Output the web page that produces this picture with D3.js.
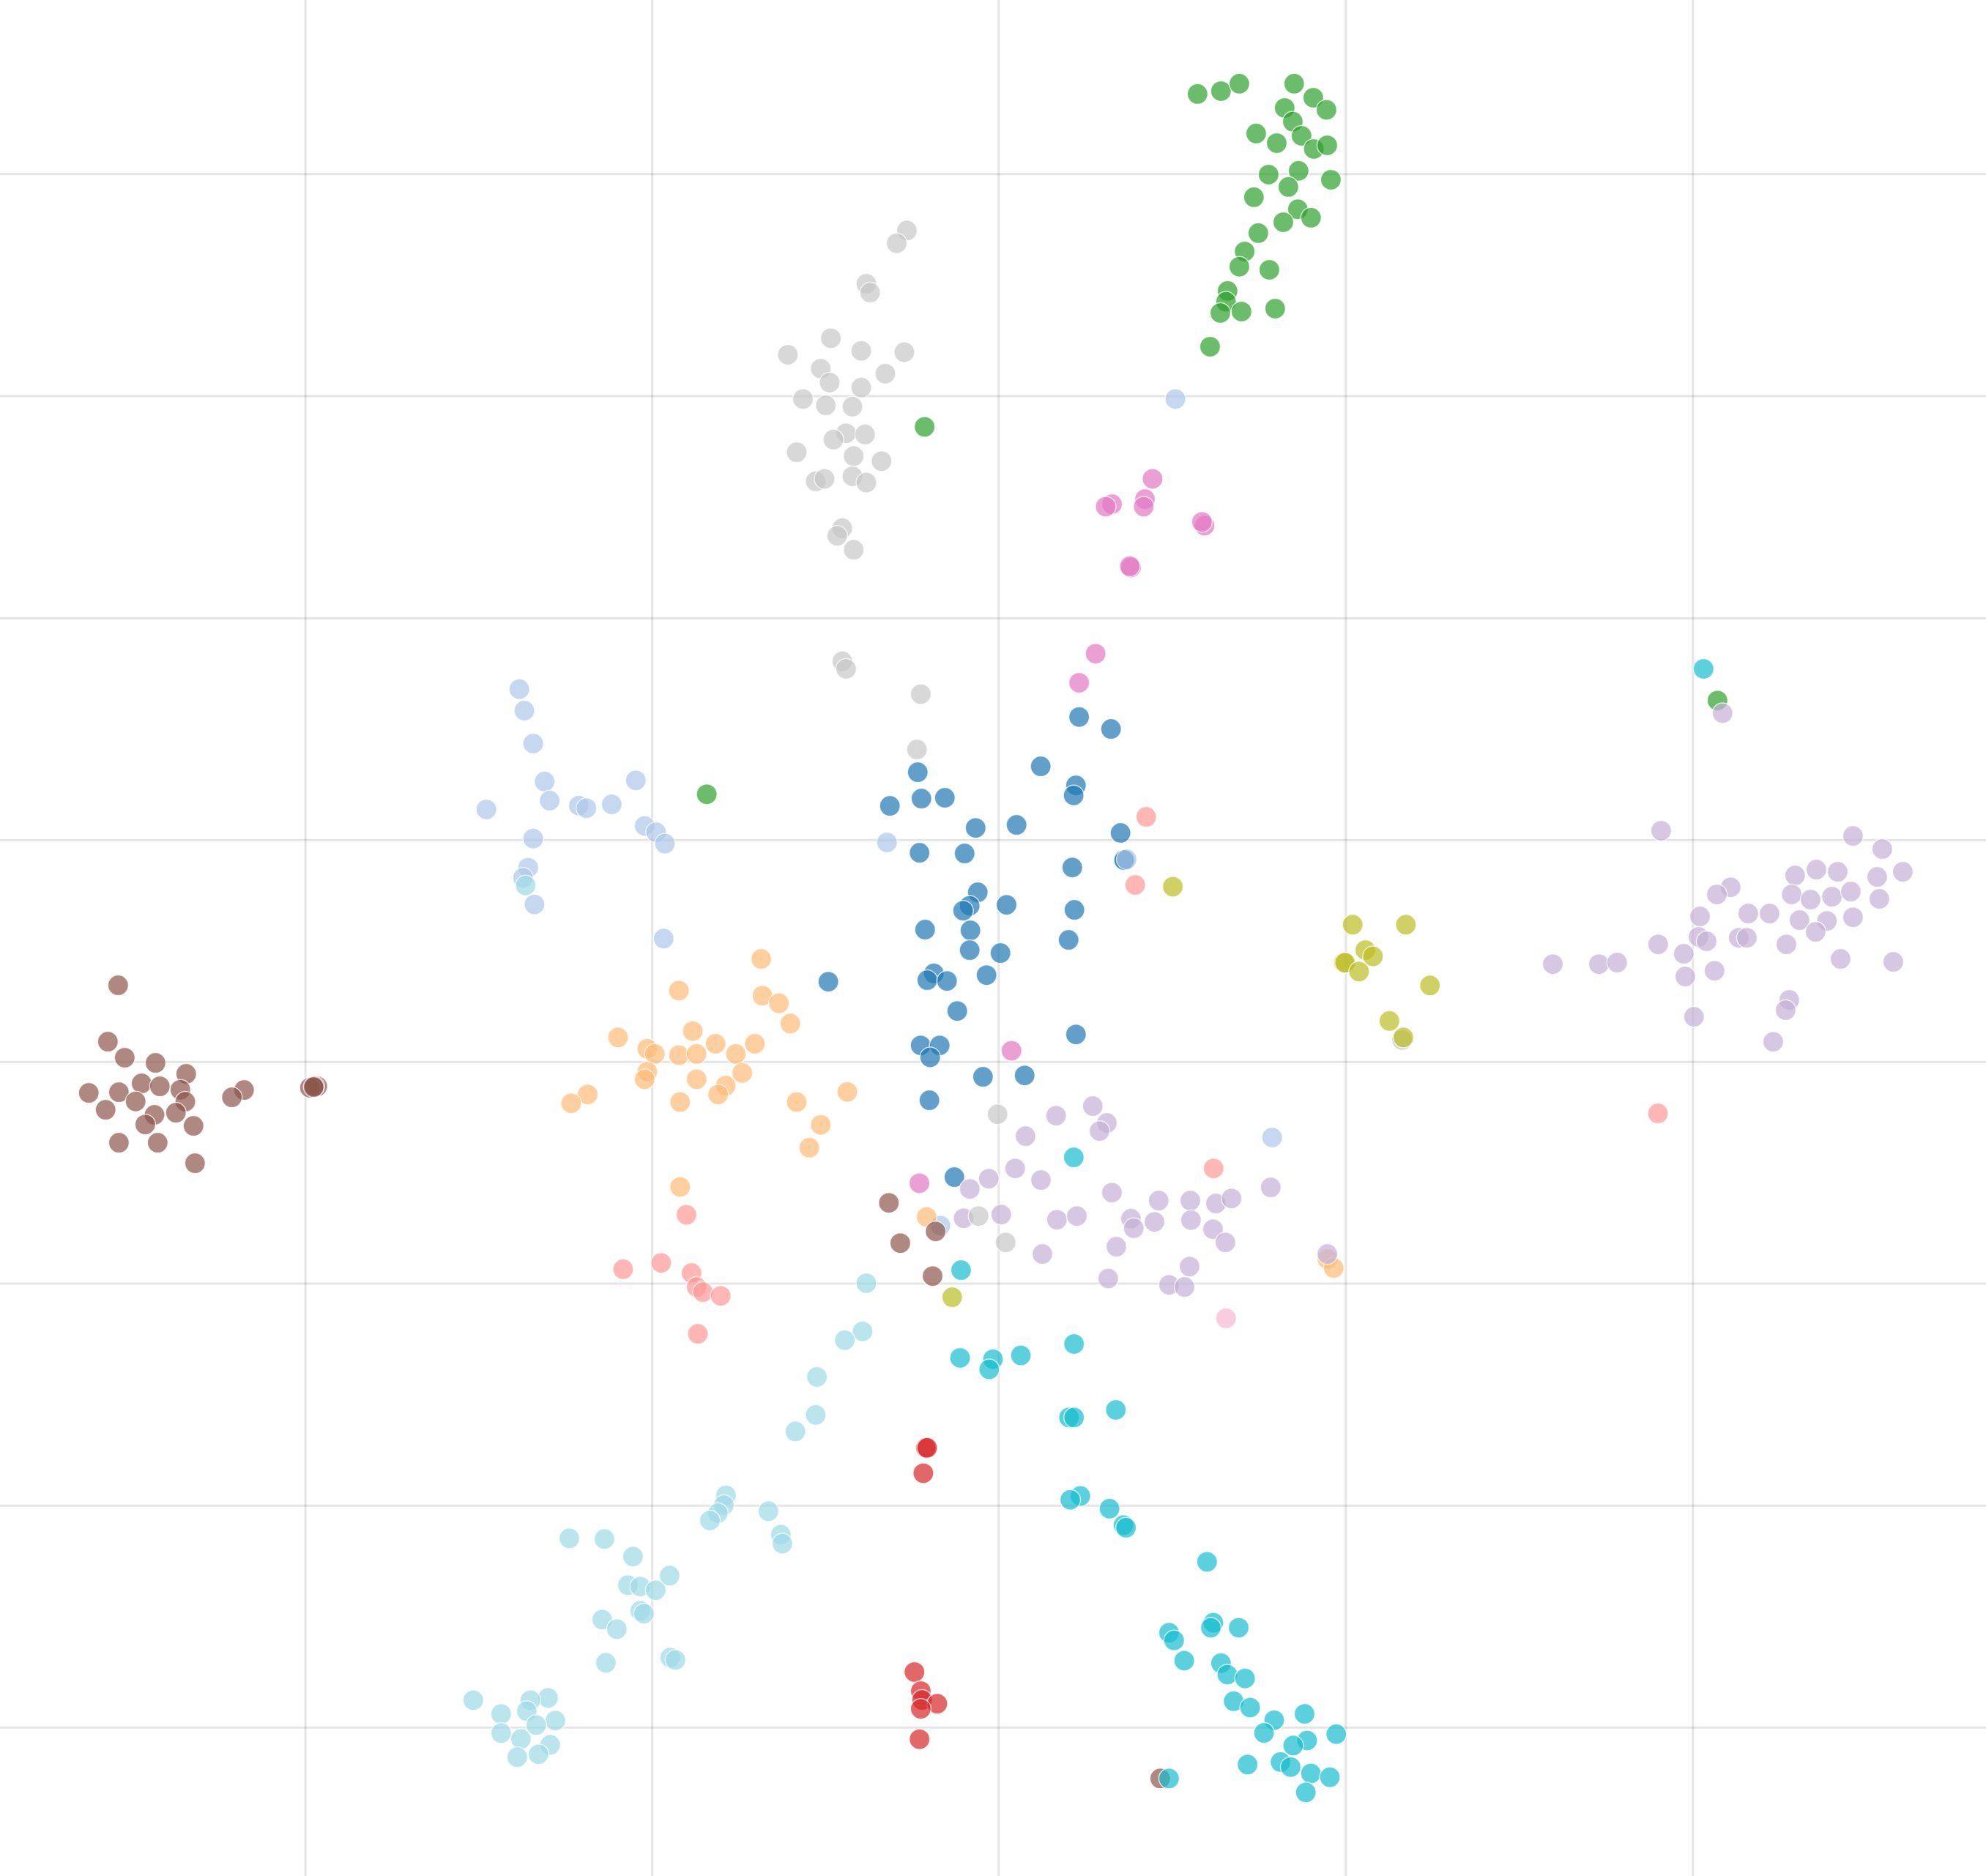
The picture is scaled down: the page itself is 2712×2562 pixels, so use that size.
<!DOCTYPE html>
<html>
<head>
<meta charset="utf-8">
<script src="https://cdn.jsdelivr.net/npm/d3@7"></script>
<style>
  html, body { margin: 0; padding: 0; background: #fff; }
  svg { display: block; }
</style>
</head>
<body>
<div id="chart"></div>
<script>
// Axes carry no labels in the reference, so values are in units
const xTickValues = [240.9, 514.7, 788.2, 1062.3, 1336.3];
const yTickValues = [137.2, 312.5, 487.9, 662.9, 838, 1013.1, 1188.3, 1363.5];

const bluePoints = [[724.6,609.6],[727.5,630.4],[746,629.8],[702.6,636.2],[821.7,605],[849.5,620],[847.7,627.9],[877.2,575.5],[852,566],[770.3,653.6],[802.6,651.2],[884.7,657.6],[726,673.2],[761.6,673.8],[846.6,684.8],[888,678.8],[887.5,679],[772,704.4],[765.6,715],[760.4,718.9],[794.7,714.3],[848.3,718.3],[730.4,733.9],[766.2,734.5],[843.7,742],[765.6,750.1],[789.9,752.4],[737.3,768.4],[732.1,773.8],[747.7,774.4],[778.9,769.8],[755.8,798.1],[849.5,816.6],[726.9,825.3],[741.9,825.3],[734.4,834.7],[776.1,850.1],[809,849],[733.8,868.6],[654,775],[753.5,929.3]];
const lightBluePoints = [[928,315],[410,544],[414,561],[421,587],[430,617],[502,616],[434,632],[457,636],[463,638],[483,635],[384,639],[509,652],[518,657],[525,666],[421,662],[417,685],[413,693],[422,714],[524,741],[700.3,665],[742.5,967.5],[1004.4,898],[889.5,678.4]];
const lightOrangePoints = [[601,757],[536,782],[602,786],[615,792],[624,808],[547,814],[488,819],[565,824],[596,824],[511,828],[517,832],[536,833],[550,832],[581,832],[511,846],[509,852],[550,852],[586,847],[573,857],[567,864],[464,864],[451,871],[537,870],[629,870],[669,862],[648,888],[639,906],[537,937],[731.6,960.7],[1048,994],[1053,1001]];
const greenPoints = [[945.5,74.2],[964,71.9],[978.5,66.1],[1021.8,66.1],[1036.9,77.1],[1047.3,86.7],[1014.3,85.2],[1020.7,96],[1027.6,107.2],[991.8,105.4],[1008,113],[1037.3,117.6],[1047.9,114.7],[1001.6,137.8],[1025.3,134.9],[1050.8,141.9],[1017.2,147.6],[990,155.7],[1024.7,165.2],[1035.1,171.9],[1013.2,175.4],[993.5,184],[982.7,198.5],[978.5,210.5],[1002.2,213],[969.2,229.7],[968,238.2],[963.5,247.1],[980.2,245.9],[1006.8,243.6],[955.4,273.7],[730,337],[558,627],[1356,553]];
const redPoints = [[731,1143],[732,1143],[729,1163],[722,1320],[727,1335],[728,1342],[740,1345],[727,1349],[726,1373]];
const lightRedPoints = [[542,959],[492,1002],[522,997],[546,1005],[550,1016],[555,1020],[569,1023],[551,1053],[905,644.9],[896.3,698.6],[958.2,922.4],[1309,879]];
const lightPurplePoints = [[862.8,873.2],[833.8,880.8],[873.9,886.5],[868.1,892.9],[809.7,896.9],[780.7,930.5],[801.5,922.4],[821.9,931.6],[765.7,938.6],[877.9,941.5],[914.8,947.8],[939.8,947.8],[960,950.1],[972.3,946.1],[1003.3,937.4],[760.8,961.7],[790.5,958.8],[834.5,962.9],[850.2,960],[892.9,962.1],[895.1,969.6],[911.5,964.6],[940.3,963.2],[957.7,970.4],[967.5,980.8],[881.4,984.2],[823,990],[939.2,999.9],[875,1009.3],[923,1014.3],[935.2,1016],[1048,990],
  [1311.5,655.8],[1463,659.9],[1486.1,670.3],[1502.3,688.2],[1482.1,692.3],[1483.8,709.6],[1417.3,691.1],[1434.1,686.5],[1450.9,688.2],[1414.6,706.1],[1429.5,710.2],[1446.4,707.9],[1461.3,703.8],[1366.4,700.4],[1355.5,706.1],[1342.2,723.5],[1380.3,721.2],[1397.1,721.2],[1420.8,726.4],[1442.4,727],[1463,724.1],[1433.5,735.6],[1341,739.7],[1347.4,743.1],[1372.8,740.3],[1379.2,740.3],[1410.4,745.5],[1309.2,745.5],[1329.4,753],[1226,761.1],[1262.4,761.1],[1276.8,759.9],[1330.6,770.9],[1353.7,766.3],[1453.2,757],[1494.8,759.3],[1412.7,789.4],[1409.8,797.5],[1337.5,802.7],[1400,822.4],[1360,563]];
const brownPoints = [[93.3,777.8],[85.2,822.3],[98.5,835],[122.8,839.1],[147,847.8],[70.1,862.8],[93.9,862.2],[111.8,855.3],[126.2,857.6],[142.4,860.3],[107.1,869.5],[146.3,869.7],[83.4,876.1],[122,880.1],[138.9,878.4],[114.7,887.7],[152.8,888.8],[93.9,902.1],[124.5,902.1],[154,918.3],[192.7,860.5],[183.1,866.3],[250.5,857.6],[244.7,858.7],[248.2,857.6],[247.6,858.2],[701.8,949.6],[738.7,972.1],[710.8,981.4],[736.3,1007.4],[916,1404]];
const pinkPoints = [[910,378],[878,398],[873,400],[904,394],[903,400],[951,415],[949,412],[893,448],[892,447],[865,516],[852,539],[798.6,829.5],[725.9,934.1]];
const lightPinkPoints = [[968,1040.7]];
const lightGreyPoints = [[716,182],[708,192],[684,224],[687,231],[656,267],[680,277],[714,278],[622,280],[648,291],[699,295],[655,302],[680,306],[634,315],[652,320],[673,321],[668,342],[683,343],[658,347],[629,357],[674,360],[696,364],[644,380],[651,378],[673,376],[684,381],[665,417],[661,423],[674,434],[665,522],[668,528],[727,548],[724,591.7],[787.6,879.6],[772.6,960],[794,980.8],[1107,821]];
const olivePoints = [[1068,730],[1110,730],[1078,750],[1084,755],[1061,760],[1062,760],[1073,767],[1129,778],[1097,806],[1108,819],[751.8,1024.1],[926,700]];
const cyanPoints = [[1345,528],[847.8,913.7],[758.8,1002.7],[848,1061],[806,1070],[758,1072],[784,1073],[781,1081],[881,1113],[844,1119],[848,1119],[853,1181],[845,1184],[876,1191],[887,1204],[889,1206],[953,1233],[923,1289],[927,1295],[958,1281],[956,1285],[978,1285],[935,1311],[964,1313],[969,1322],[983,1325],[974,1343],[987,1348],[1006,1358],[1030,1353],[998,1368],[1055,1369],[1032,1374],[1021,1378],[1011,1391],[985,1393],[1019,1395],[1035,1400],[1050,1403],[923,1404],[1031,1415]];
const lightCyanPoints = [[449.5,1214.4],[477.2,1215],[499.8,1228.8],[528.7,1243.9],[495.7,1251.4],[505.5,1252.5],[517.7,1255.4],[505.5,1271.6],[508.4,1273.9],[475.5,1278.6],[487,1286.1],[478.4,1312.7],[529.2,1308.6],[533.3,1310.4],[373.7,1342.2],[395.7,1353.1],[432.7,1340.4],[418.8,1342.2],[415.9,1350.8],[438.5,1358.3],[423.4,1361.8],[395.7,1368.2],[411.3,1372.8],[434.4,1377.4],[425.2,1384.9],[408.4,1387.2],[573.2,1180.5],[571.5,1188.2],[566.8,1194.5],[560.5,1200.3],[606.7,1193],[616.5,1211.5],[617.7,1218.6],[684,1013],[681,1051],[667,1058],[645,1087],[644,1117],[628,1130],[415,699]];

// drawn in this order, later series sit on top
const seriesList = [
  { color: "#1f77b4", points: bluePoints },
  { color: "#aec7e8", points: lightBluePoints },
  { color: "#ffbb78", points: lightOrangePoints },
  { color: "#2ca02c", points: greenPoints },
  { color: "#d62728", points: redPoints },
  { color: "#ff9896", points: lightRedPoints },
  { color: "#c5b0d5", points: lightPurplePoints },
  { color: "#8c564b", points: brownPoints },
  { color: "#e377c2", points: pinkPoints },
  { color: "#f7b6d2", points: lightPinkPoints },
  { color: "#c7c7c7", points: lightGreyPoints },
  { color: "#bcbd22", points: olivePoints },
  { color: "#17becf", points: cyanPoints },
  { color: "#9edae5", points: lightCyanPoints }
];

const width = 2712, height = 2562;

const svg = d3.select("#chart")
  .append("svg")
  .attr("width", width)
  .attr("height", height);

const x = d3.scaleLinear().domain([0, 1568]).range([0, width]);
const y = d3.scaleLinear().domain([0, 1481]).range([0, height]);

// Gridlines only, the axis text and domain are not shown
svg.append("g")
  .attr("class", "x-grid")
  .attr("transform", `translate(0,${height})`)
  .call(d3.axisBottom(x).tickValues(xTickValues).tickSize(-height).tickFormat(""))
  .call(g => g.select(".domain").remove());

svg.append("g")
  .attr("class", "y-grid")
  .call(d3.axisLeft(y).tickValues(yTickValues).tickSize(-width).tickFormat(""))
  .call(g => g.select(".domain").remove());

svg.selectAll(".x-grid line, .y-grid line")
  .attr("stroke", "#000")
  .attr("stroke-opacity", 0.1)
  .attr("stroke-width", 3);

seriesList.forEach(series => {
  svg.append("g")
    .selectAll("circle")
    .data(series.points)
    .enter()
    .append("circle")
    .attr("cx", d => x(d[0]))
    .attr("cy", d => y(d[1]))
    .attr("r", 14)
    .attr("fill", series.color)
    .attr("fill-opacity", 0.7)
    .attr("stroke", "#fff")
    .attr("stroke-opacity", 0.7)
    .attr("stroke-width", 1.5);
});
</script>
</body>
</html>
